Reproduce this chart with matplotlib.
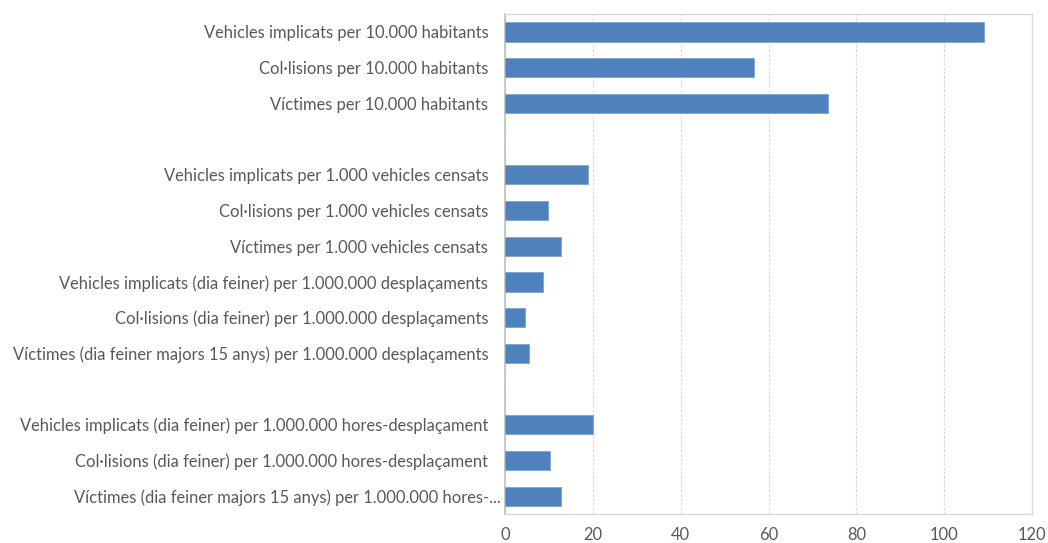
import matplotlib
matplotlib.use('Agg')
import matplotlib.pyplot as plt
import numpy as np
from matplotlib.transforms import ScaledTranslation

categories = [
    "Vehicles implicats per 10.000 habitants",
    "Col·lisions per 10.000 habitants",
    "Víctimes per 10.000 habitants",
    "",
    "Vehicles implicats per 1.000 vehicles censats",
    "Col·lisions per 1.000 vehicles censats",
    "Víctimes per 1.000 vehicles censats",
    "Vehicles implicats (dia feiner) per 1.000.000 desplaçaments",
    "Col·lisions (dia feiner) per 1.000.000 desplaçaments",
    "Víctimes (dia feiner majors 15 anys) per 1.000.000 desplaçaments",
    "",
    "Vehicles implicats (dia feiner) per 1.000.000 hores-desplaçament",
    "Col·lisions (dia feiner) per 1.000.000 hores-desplaçament",
    "Víctimes (dia feiner majors 15 anys) per 1.000.000 hores-...",
]
values = [109.0, 56.6, 73.5, np.nan, 18.9, 9.8, 12.8, 8.6, 4.5, 5.5, np.nan, 20.0, 10.3, 12.8]
x_ticks = [0, 20, 40, 60, 80, 100, 120]

plt.rcParams['font.family'] = ['Lato', 'DejaVu Sans']
W, H = 1048, 543
fig = plt.figure(figsize=(W / 100, H / 100), dpi=100)
ax = fig.add_axes([505 / W, 1 - 514 / H, (1032 - 505) / W, (514 - 14) / H])

y = np.arange(len(categories))
ax.barh(y, values, height=0.54, color='#4F81BD', edgecolor='#7fa3d1', linewidth=0.6, zorder=3)

ax.set_xlim(0, 120)
ax.set_ylim(len(categories) - 0.5, -0.5)
ax.set_xticks(x_ticks)
ax.set_yticks(y)
ax.set_yticklabels(categories)
ax.tick_params(axis='both', length=0, labelsize=11.9, labelcolor='#595959')
ax.tick_params(axis='y', pad=12)
ax.tick_params(axis='x', pad=9.5)

ax.grid(axis='x', color='#D9D9D9', linestyle=(0, (2.5, 1.5)), linewidth=0.8, zorder=0)
for side in ['top', 'right', 'bottom']:
    ax.spines[side].set_color('#D9D9D9')
    ax.spines[side].set_linewidth(1.0)
ax.spines['left'].set_color('#BFBFBF')
ax.spines['left'].set_linewidth(1.2)

last = ax.get_yticklabels()[-1]
last.set_transform(last.get_transform() + ScaledTranslation(12 / 100, 0, fig.dpi_scale_trans))

fig.savefig('out.png', dpi=100)
